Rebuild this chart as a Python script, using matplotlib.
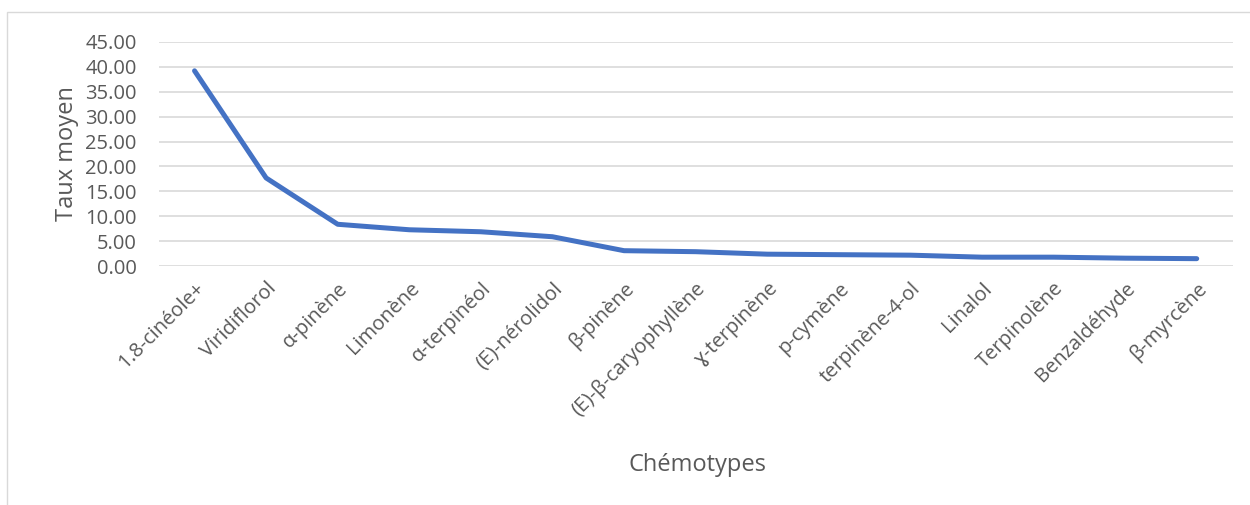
import matplotlib.pyplot as plt
import matplotlib.patches as mpatches

# chemotypes and mean rates
chemotypes = ['1.8-cinéole+', 'Viridiflorol', 'α-pinène', 'Limonène', 'α-terpinéol',
              '(E)-nérolidol', 'β-pinène', '(E)-β-caryophyllène', 'ɣ-terpinène', 'p-cymène',
              'terpinène-4-ol', 'Linalol', 'Terpinolène', 'Benzaldéhyde', 'β-myrcène']
taux = [39.2, 17.7, 8.4, 7.3, 6.9, 5.9, 3.1, 2.9, 2.4, 2.3, 2.2, 1.8, 1.8, 1.6, 1.5]
yticks = [0, 5, 10, 15, 20, 25, 30, 35, 40, 45]

plt.rcParams['font.family'] = ['Open Sans', 'DejaVu Sans']
grey = '#595959'

fig = plt.figure(figsize=(12.5, 5.05), dpi=100)
ax = fig.add_axes([0.127, 0.473, 0.859, 0.444])

# chart frame
fig.patches.append(mpatches.Rectangle((7 / 1250, -0.1), 1.2, 1 - 12 / 505 + 0.1,
                                      transform=fig.transFigure, fill=False,
                                      edgecolor='#d9d9d9', linewidth=1))

x = list(range(len(chemotypes)))
ax.plot(x, taux, color='#4472C4', linewidth=3.6, solid_capstyle='round', solid_joinstyle='round')

ax.set_xlim(-0.5, len(chemotypes) - 0.5)
ax.set_ylim(0, 45)
ax.set_yticks(yticks)
ax.set_yticklabels(['%.2f' % v for v in yticks], fontsize=14.5, color=grey)
ax.set_xticks(x)
ax.set_xticklabels(chemotypes, rotation=45, ha='right', rotation_mode='anchor',
                   fontsize=14.5, color=grey)
ax.tick_params(axis='both', length=0)
ax.tick_params(axis='x', pad=9)
ax.tick_params(axis='y', pad=16)
ax.grid(axis='y', color='#d9d9d9', linewidth=1.2)
ax.set_axisbelow(True)
for s in ax.spines.values():
    s.set_visible(False)

ax.set_ylabel('Taux moyen', fontsize=17, color=grey, labelpad=4)
fig.text(697 / 1250, 1 - 465 / 505, 'Chémotypes', fontsize=17, color=grey, ha='center', va='center')

fig.savefig('out.png', dpi=100)
